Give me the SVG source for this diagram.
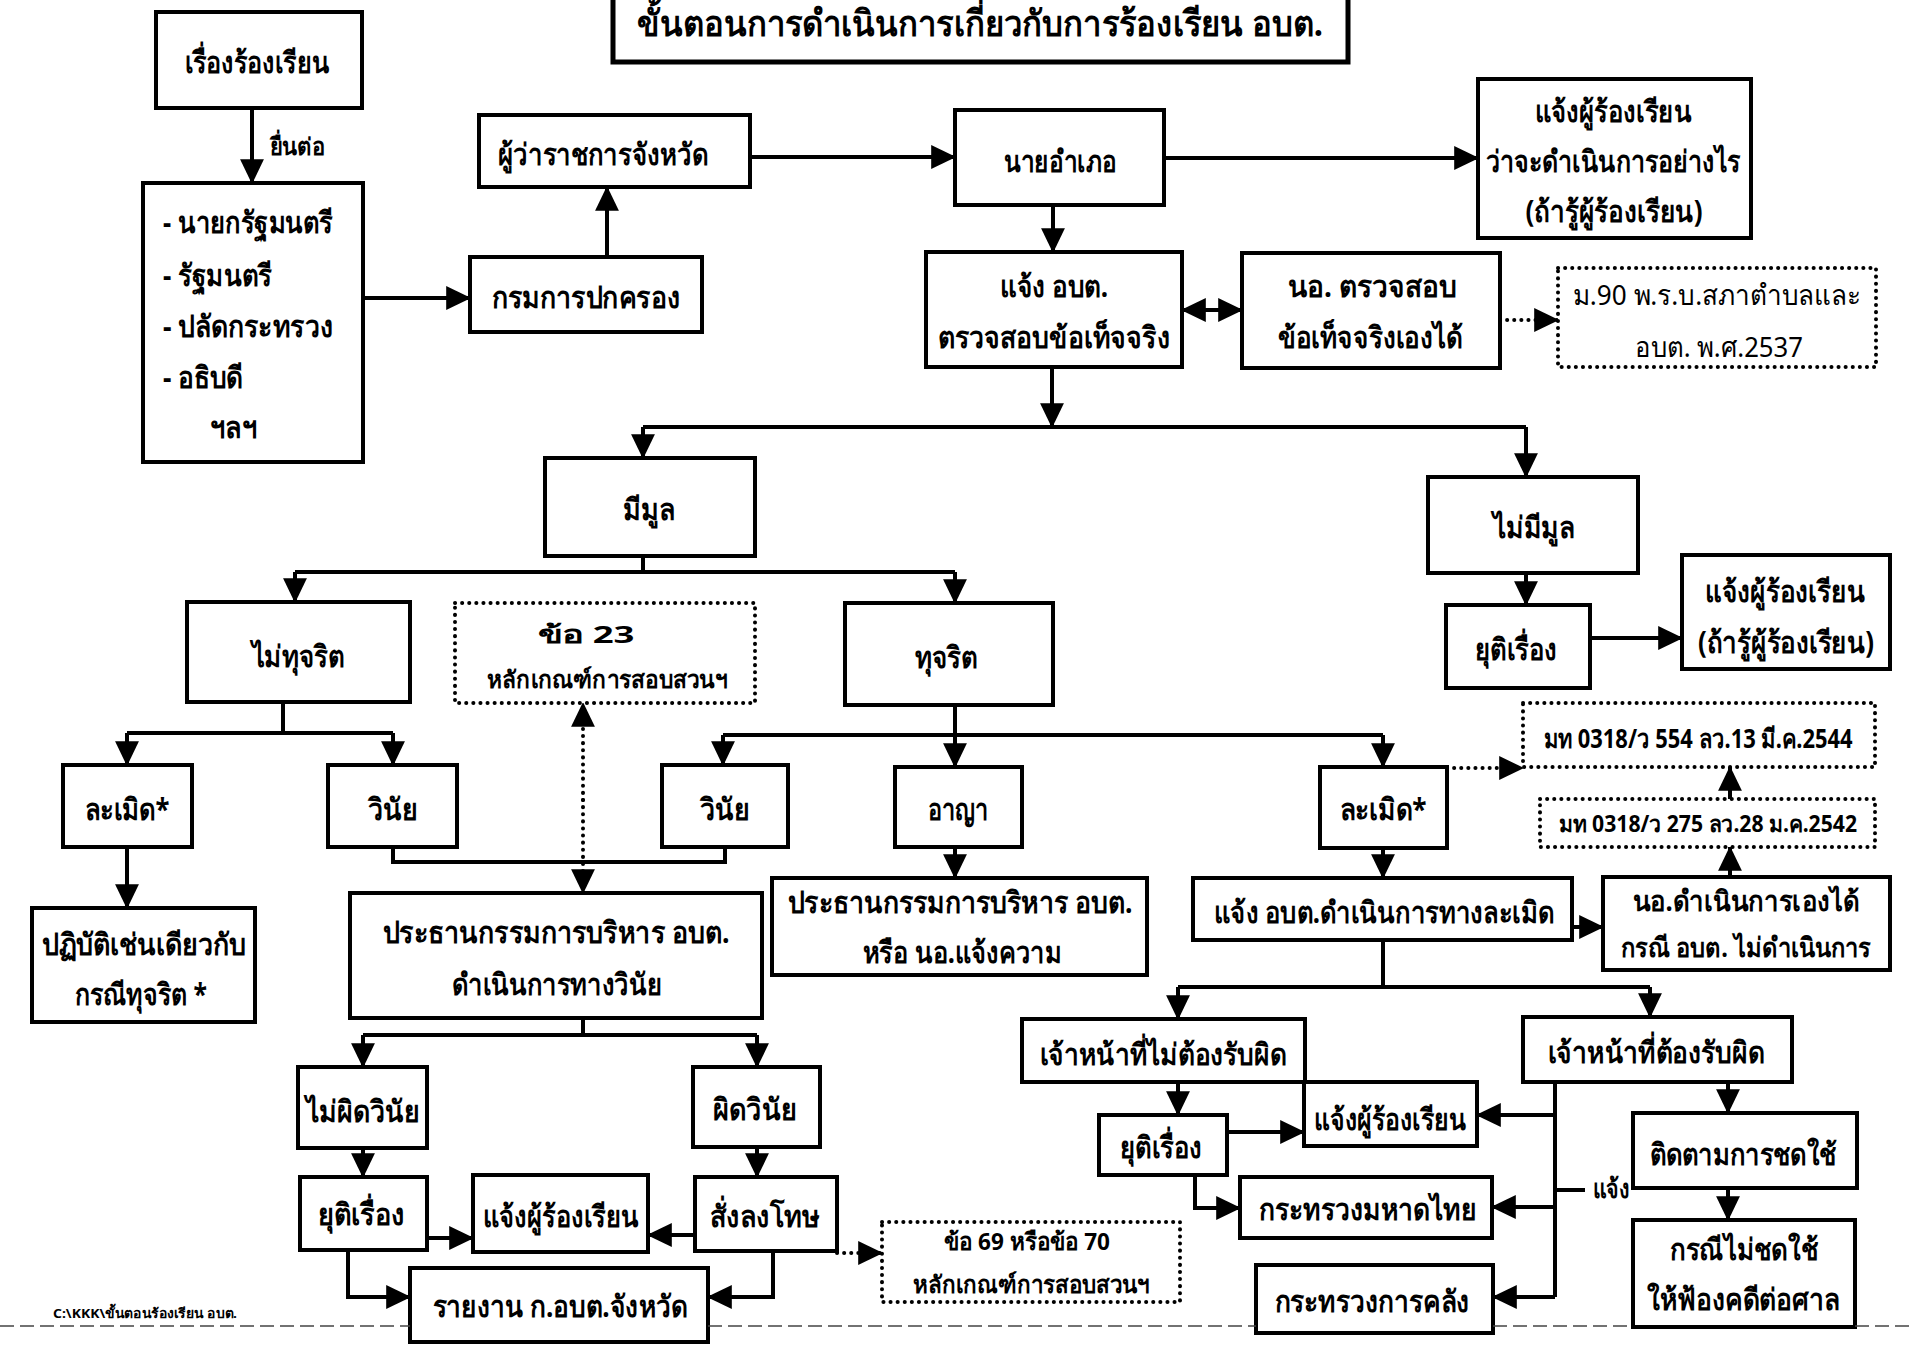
<svg xmlns="http://www.w3.org/2000/svg" width="1910" height="1348" viewBox="0 0 1910 1348">
<defs>
<marker id="ah" markerUnits="userSpaceOnUse" markerWidth="26" markerHeight="26" viewBox="0 0 24 24" refX="22" refY="12" orient="auto-start-reverse"><path d="M0,1 L23,12 L0,23 z" fill="#000"/></marker>
<style>
.bx{fill:#fff;stroke:#000;stroke-width:4}
.dt{fill:#fff;stroke:#000;stroke-width:4;stroke-dasharray:0.1 7;stroke-linecap:round}
.ln{fill:none;stroke:#000;stroke-width:4}
.ar{fill:none;stroke:#000;stroke-width:4;marker-end:url(#ah)}
.da{fill:none;stroke:#000;stroke-width:4;stroke-dasharray:0.1 7;stroke-linecap:round;marker-end:url(#ah)}
text{font-family:"Noto Sans","DejaVu Sans",sans-serif;font-weight:bold;font-size:30px;fill:#000;text-anchor:middle}
.sm{font-size:24px}
.md{font-size:26px}
.nb{font-weight:normal;font-size:28px}
.lt{text-anchor:start}
</style>
</defs>
<rect width="1910" height="1348" fill="#fff"/>

<g id="title"><rect x="613" y="-10" width="735" height="72" fill="#fff" stroke="#000" stroke-width="5"/><text x="980" y="36" textLength="686" lengthAdjust="spacingAndGlyphs" style="font-size:36px">ขั้นตอนการดำเนินการเกี่ยวกับการร้องเรียน อบต.</text></g>

<g id="connectors">
<path class="ar" d="M252,108 V183"/>
<path class="ar" d="M363,298 H470"/>
<path class="ar" d="M607,257 V187"/>
<path class="ar" d="M750,157 H955"/>
<path class="ar" d="M1164,158 H1478"/>
<path class="ar" d="M1053,205 V252"/>
<path class="ar" d="M1212,310 H1242"/>
<path class="ar" d="M1212,310 H1182"/>
<path class="da" d="M1500,320 H1558"/>
<path class="ar" d="M1052,367 V427"/>
<path class="ln" d="M643,427 H1526"/>
<path class="ar" d="M643,427 V458"/>
<path class="ar" d="M1526,427 V477"/>
<path class="ln" d="M643,556 V572 M295,572 H955"/>
<path class="ar" d="M295,572 V602"/>
<path class="ar" d="M955,572 V603"/>
<path class="ln" d="M283,702 V733 M127,733 H393"/>
<path class="ar" d="M127,733 V765"/>
<path class="ar" d="M393,733 V765"/>
<path class="ar" d="M127,847 V908"/>
<path class="ln" d="M393,847 V862 H725 V847"/>
<path class="da" d="M583,800 V703"/>
<path class="da" d="M583,800 V893"/>
<path class="ln" d="M955,705 V735 M723,735 H1383"/>
<path class="ar" d="M723,735 V765"/>
<path class="ar" d="M955,735 V767"/>
<path class="ar" d="M1383,735 V767"/>
<path class="ar" d="M955,847 V878"/>
<path class="da" d="M1447,768 H1523"/>
<path class="ar" d="M1730,799 V767"/>
<path class="ar" d="M1730,877 V847"/>
<path class="ar" d="M1526,573 V605"/>
<path class="ar" d="M1590,638 H1682"/>
<path class="ar" d="M1383,848 V878"/>
<path class="ar" d="M1572,927 H1603"/>
<path class="ln" d="M1383,940 V987 M1178,987 H1650"/>
<path class="ar" d="M1178,987 V1019"/>
<path class="ar" d="M1650,987 V1017"/>
<path class="ar" d="M1178,1082 V1115"/>
<path class="ar" d="M1227,1132 H1304"/>
<path class="ar" d="M1195,1175 V1208 H1240"/>
<path class="ln" d="M1555,1082 V1297 M1555,1190 H1585"/>
<path class="ar" d="M1555,1115 H1477"/>
<path class="ar" d="M1555,1207 H1492"/>
<path class="ar" d="M1555,1297 H1493"/>
<path class="ar" d="M1728,1082 V1113"/>
<path class="ar" d="M1728,1188 V1220"/>
<path class="ln" d="M583,1018 V1035 M363,1035 H757"/>
<path class="ar" d="M363,1035 V1067"/>
<path class="ar" d="M757,1035 V1067"/>
<path class="ar" d="M363,1148 V1177"/>
<path class="ar" d="M757,1147 V1177"/>
<path class="ar" d="M427,1238 H473"/>
<path class="ar" d="M348,1250 V1297 H410"/>
<path class="ar" d="M695,1235 H648"/>
<path class="ar" d="M773,1251 V1297 H708"/>
<path class="da" d="M837,1253 H882"/>
<text class="sm" x="297" y="155" textLength="55" lengthAdjust="spacingAndGlyphs">ยื่นต่อ</text>
<text class="md" x="1611" y="1198" textLength="37" lengthAdjust="spacingAndGlyphs">แจ้ง</text>
</g>

<g id="n-complaint"><rect class="bx" x="156" y="12" width="206" height="96"/><text x="257" y="73" textLength="145" lengthAdjust="spacingAndGlyphs">เรื่องร้องเรียน</text></g>
<g id="n-list"><rect class="bx" x="143" y="183" width="220" height="279"/>
<text class="lt" x="163" y="233" textLength="170" lengthAdjust="spacingAndGlyphs">- นายกรัฐมนตรี</text>
<text class="lt" x="163" y="286" textLength="109" lengthAdjust="spacingAndGlyphs">- รัฐมนตรี</text>
<text class="lt" x="163" y="337" textLength="170" lengthAdjust="spacingAndGlyphs">- ปลัดกระทรวง</text>
<text class="lt" x="163" y="388" textLength="80" lengthAdjust="spacingAndGlyphs">- อธิบดี</text>
<text class="lt" x="210" y="438" textLength="47" lengthAdjust="spacingAndGlyphs">ฯลฯ</text></g>
<g id="n-governor"><rect class="bx" x="479" y="115" width="271" height="72"/><text x="603" y="165" textLength="210" lengthAdjust="spacingAndGlyphs">ผู้ว่าราชการจังหวัด</text></g>
<g id="n-dopa"><rect class="bx" x="470" y="257" width="232" height="75"/><text x="586" y="308" textLength="188" lengthAdjust="spacingAndGlyphs">กรมการปกครอง</text></g>
<g id="n-district"><rect class="bx" x="955" y="110" width="209" height="95"/><text x="1060" y="172" textLength="113" lengthAdjust="spacingAndGlyphs">นายอำเภอ</text></g>
<g id="n-notify-tao"><rect class="bx" x="926" y="252" width="256" height="115"/><text x="1054" y="297" textLength="108" lengthAdjust="spacingAndGlyphs">แจ้ง อบต.</text><text x="1054" y="348" textLength="232" lengthAdjust="spacingAndGlyphs">ตรวจสอบข้อเท็จจริง</text></g>
<g id="n-no-check"><rect class="bx" x="1242" y="253" width="258" height="115"/><text x="1372" y="297" textLength="169" lengthAdjust="spacingAndGlyphs">นอ. ตรวจสอบ</text><text x="1370" y="348" textLength="185" lengthAdjust="spacingAndGlyphs">ข้อเท็จจริงเองได้</text></g>
<g id="n-inform-top"><rect class="bx" x="1478" y="79" width="273" height="159"/><text x="1613" y="122" textLength="157" lengthAdjust="spacingAndGlyphs">แจ้งผู้ร้องเรียน</text><text x="1613" y="172" textLength="255" lengthAdjust="spacingAndGlyphs">ว่าจะดำเนินการอย่างไร</text><text x="1614" y="222" textLength="177" lengthAdjust="spacingAndGlyphs">(ถ้ารู้ผู้ร้องเรียน)</text></g>
<g id="n-m90"><rect class="dt" x="1558" y="268" width="318" height="99"/><text class="nb" x="1717" y="305" textLength="288" lengthAdjust="spacingAndGlyphs">ม.90 พ.ร.บ.สภาตำบลและ</text><text class="nb" x="1719" y="357" textLength="168" lengthAdjust="spacingAndGlyphs">อบต. พ.ศ.2537</text></g>
<g id="n-has-basis"><rect class="bx" x="545" y="458" width="210" height="98"/><text x="649" y="520" textLength="52" lengthAdjust="spacingAndGlyphs">มีมูล</text></g>
<g id="n-no-basis"><rect class="bx" x="1428" y="477" width="210" height="96"/><text x="1534" y="538" textLength="82" lengthAdjust="spacingAndGlyphs">ไม่มีมูล</text></g>
<g id="n-not-corrupt"><rect class="bx" x="187" y="602" width="223" height="100"/><text x="298" y="667" textLength="93" lengthAdjust="spacingAndGlyphs">ไม่ทุจริต</text></g>
<g id="n-rule23"><rect class="dt" x="455" y="603" width="300" height="100"/><text class="sm" x="586" y="643" textLength="97" lengthAdjust="spacingAndGlyphs">ข้อ 23</text><text class="sm" x="607" y="688" textLength="240" lengthAdjust="spacingAndGlyphs">หลักเกณฑ์การสอบสวนฯ</text></g>
<g id="n-corrupt"><rect class="bx" x="845" y="603" width="208" height="102"/><text x="946" y="668" textLength="63" lengthAdjust="spacingAndGlyphs">ทุจริต</text></g>
<g id="n-end-r"><rect class="bx" x="1446" y="605" width="144" height="83"/><text x="1516" y="660" textLength="82" lengthAdjust="spacingAndGlyphs">ยุติเรื่อง</text></g>
<g id="n-inform-r"><rect class="bx" x="1682" y="555" width="208" height="114"/><text x="1785" y="602" textLength="160" lengthAdjust="spacingAndGlyphs">แจ้งผู้ร้องเรียน</text><text x="1786" y="653" textLength="176" lengthAdjust="spacingAndGlyphs">(ถ้ารู้ผู้ร้องเรียน)</text></g>
<g id="n-tort-l"><rect class="bx" x="63" y="765" width="129" height="82"/><text x="127" y="820" textLength="85" lengthAdjust="spacingAndGlyphs">ละเมิด*</text></g>
<g id="n-disc-l"><rect class="bx" x="328" y="765" width="129" height="82"/><text x="393" y="820" textLength="50" lengthAdjust="spacingAndGlyphs">วินัย</text></g>
<g id="n-disc-m"><rect class="bx" x="662" y="765" width="126" height="82"/><text x="725" y="820" textLength="50" lengthAdjust="spacingAndGlyphs">วินัย</text></g>
<g id="n-criminal"><rect class="bx" x="895" y="767" width="127" height="80"/><text x="958" y="820" textLength="61" lengthAdjust="spacingAndGlyphs">อาญา</text></g>
<g id="n-tort-r"><rect class="bx" x="1320" y="767" width="127" height="81"/><text x="1383" y="820" textLength="87" lengthAdjust="spacingAndGlyphs">ละเมิด*</text></g>
<g id="n-mt554"><rect class="dt" x="1523" y="703" width="352" height="64"/><text class="md" x="1698" y="748" textLength="309" lengthAdjust="spacingAndGlyphs">มท 0318/ว 554 ลว.13 มี.ค.2544</text></g>
<g id="n-mt275"><rect class="dt" x="1540" y="799" width="335" height="48"/><text x="1708" y="832" style="font-size:23px" textLength="298" lengthAdjust="spacingAndGlyphs">มท 0318/ว 275 ลว.28 ม.ค.2542</text></g>
<g id="n-same"><rect class="bx" x="32" y="908" width="223" height="114"/><text x="144" y="955" textLength="205" lengthAdjust="spacingAndGlyphs">ปฏิบัติเช่นเดียวกับ</text><text x="141" y="1005" textLength="132" lengthAdjust="spacingAndGlyphs">กรณีทุจริต *</text></g>
<g id="n-chair-disc"><rect class="bx" x="350" y="893" width="412" height="125"/><text x="556" y="943" textLength="347" lengthAdjust="spacingAndGlyphs">ประธานกรรมการบริหาร อบต.</text><text x="557" y="995" textLength="210" lengthAdjust="spacingAndGlyphs">ดำเนินการทางวินัย</text></g>
<g id="n-chair-crim"><rect class="bx" x="772" y="878" width="375" height="97"/><text x="960" y="913" textLength="345" lengthAdjust="spacingAndGlyphs">ประธานกรรมการบริหาร อบต.</text><text x="962" y="963" textLength="199" lengthAdjust="spacingAndGlyphs">หรือ นอ.แจ้งความ</text></g>
<g id="n-tao-tort"><rect class="bx" x="1193" y="878" width="379" height="62"/><text x="1384" y="923" textLength="340" lengthAdjust="spacingAndGlyphs">แจ้ง อบต.ดำเนินการทางละเมิด</text></g>
<g id="n-no-self"><rect class="bx" x="1603" y="877" width="287" height="93"/><text x="1746" y="911" style="font-size:28px" textLength="227" lengthAdjust="spacingAndGlyphs">นอ.ดำเนินการเองได้</text><text x="1746" y="957" style="font-size:27px" textLength="250" lengthAdjust="spacingAndGlyphs">กรณี อบต. ไม่ดำเนินการ</text></g>
<g id="n-not-guilty"><rect class="bx" x="298" y="1067" width="129" height="81"/><text x="363" y="1122" textLength="114" lengthAdjust="spacingAndGlyphs">ไม่ผิดวินัย</text></g>
<g id="n-guilty"><rect class="bx" x="693" y="1067" width="127" height="80"/><text x="755" y="1120" textLength="84" lengthAdjust="spacingAndGlyphs">ผิดวินัย</text></g>
<g id="n-end-l"><rect class="bx" x="300" y="1177" width="127" height="73"/><text x="361" y="1225" textLength="87" lengthAdjust="spacingAndGlyphs">ยุติเรื่อง</text></g>
<g id="n-inform-l"><rect class="bx" x="473" y="1175" width="175" height="77"/><text x="561" y="1227" textLength="156" lengthAdjust="spacingAndGlyphs">แจ้งผู้ร้องเรียน</text></g>
<g id="n-punish"><rect class="bx" x="695" y="1177" width="142" height="74"/><text x="765" y="1227" textLength="110" lengthAdjust="spacingAndGlyphs">สั่งลงโทษ</text></g>
<g id="n-report"><rect class="bx" x="410" y="1268" width="298" height="74"/><text x="560" y="1317" textLength="255" lengthAdjust="spacingAndGlyphs">รายงาน ก.อบต.จังหวัด</text></g>
<g id="n-rule69"><rect class="dt" x="882" y="1222" width="298" height="80"/><text class="sm" x="1027" y="1250" textLength="166" lengthAdjust="spacingAndGlyphs">ข้อ 69 หรือข้อ 70</text><text class="sm" x="1031" y="1293" textLength="236" lengthAdjust="spacingAndGlyphs">หลักเกณฑ์การสอบสวนฯ</text></g>
<g id="n-off-notliable"><rect class="bx" x="1022" y="1019" width="283" height="63"/><text x="1163" y="1065" textLength="247" lengthAdjust="spacingAndGlyphs">เจ้าหน้าที่ไม่ต้องรับผิด</text></g>
<g id="n-end-b"><rect class="bx" x="1099" y="1115" width="128" height="60"/><text x="1161" y="1158" textLength="82" lengthAdjust="spacingAndGlyphs">ยุติเรื่อง</text></g>
<g id="n-inform-b"><rect class="bx" x="1304" y="1082" width="173" height="64"/><text x="1390" y="1130" textLength="152" lengthAdjust="spacingAndGlyphs">แจ้งผู้ร้องเรียน</text></g>
<g id="n-moi"><rect class="bx" x="1240" y="1177" width="252" height="61"/><text x="1368" y="1220" textLength="218" lengthAdjust="spacingAndGlyphs">กระทรวงมหาดไทย</text></g>
<g id="n-mof"><rect class="bx" x="1256" y="1265" width="237" height="68"/><text x="1372" y="1312" textLength="195" lengthAdjust="spacingAndGlyphs">กระทรวงการคลัง</text></g>
<g id="n-off-liable"><rect class="bx" x="1523" y="1017" width="269" height="65"/><text x="1656" y="1063" textLength="217" lengthAdjust="spacingAndGlyphs">เจ้าหน้าที่ต้องรับผิด</text></g>
<g id="n-follow"><rect class="bx" x="1633" y="1113" width="224" height="75"/><text x="1743" y="1165" textLength="187" lengthAdjust="spacingAndGlyphs">ติดตามการชดใช้</text></g>
<g id="n-sue"><rect class="bx" x="1633" y="1220" width="222" height="107"/><text x="1744" y="1260" textLength="148" lengthAdjust="spacingAndGlyphs">กรณีไม่ชดใช้</text><text x="1743" y="1310" textLength="193" lengthAdjust="spacingAndGlyphs">ให้ฟ้องคดีต่อศาล</text></g>

<g id="footer">
<text class="lt" x="53" y="1318" style="font-size:13px" textLength="184" lengthAdjust="spacingAndGlyphs">C:\KKK\ขั้นตอนร้องเรียน อบต.</text>
<path d="M0,1326 H410 M708,1326 H1256 M1493,1326 H1633 M1855,1326 H1910" stroke="#444" stroke-width="1.5" stroke-dasharray="14 6" fill="none"/>
</g>
</svg>
